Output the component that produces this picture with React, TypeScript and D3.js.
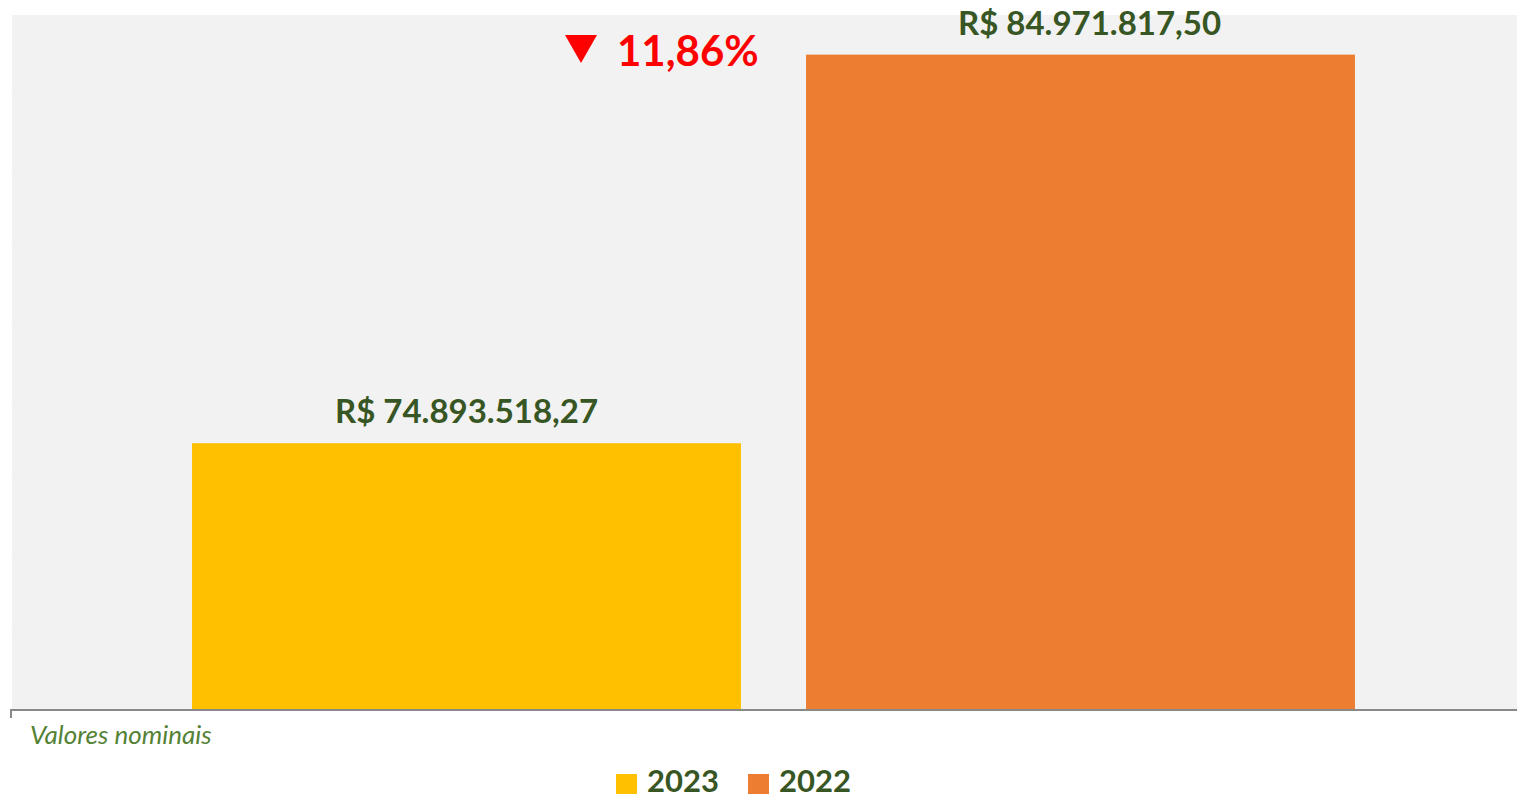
import React from "react";
import * as d3 from "d3";

const categories = ["2023", "2022"];
const values = [74893518.27, 84971817.5];
const valueLabels = ["R$ 74.893.518,27", "R$ 84.971.817,50"];
const colors = ["#FFC000", "#ED7D31"];
const changeLabel = "11,86%";
const yDomain = [68000000, 86000000];
const yTicks = d3.range(68000000, 86000001, 2000000);
const note = "Valores nominais";

const W = 1517;
const H = 799;
const plotLeft = 12;
const plotRight = 1517;
const plotTop = 15;
const plotBottom = 709;

export default function App() {
  const x = d3
    .scaleBand<string>()
    .domain(categories)
    .range([159.5, 1387.5])
    .paddingInner(0.106)
    .paddingOuter(0.053);
  const y = d3.scaleLinear().domain(yDomain).range([plotBottom, plotTop]);
  const font = "Lato, 'Open Sans', sans-serif";

  return (
    <svg
      width={W}
      height={H}
      style={{ position: "absolute", left: 0, top: 0, background: "#fff" }}
      fontFamily={font}
    >
      <rect x={plotLeft} y={plotTop} width={plotRight - plotLeft} height={plotBottom - plotTop} fill="#F2F2F2" />
      {yTicks.map((t) => (
        <line key={t} x1={10} x2={13} y1={y(t)} y2={y(t)} stroke="#FAFAFA" strokeWidth={1} />
      ))}
      {categories.map((c, i) => (
        <g key={c}>
          <rect
            x={x(c)}
            y={y(values[i])}
            width={x.bandwidth()}
            height={plotBottom - y(values[i])}
            fill={colors[i]}
          />
          <text
            x={(x(c) as number) + x.bandwidth() / 2 + (i === 1 ? 9 : 0)}
            y={y(values[i]) - 20}
            textAnchor="middle"
            fontSize={33}
            fontWeight="bold"
            fill="#375623"
          >
            {valueLabels[i]}
          </text>
        </g>
      ))}
      <line x1={10} x2={plotRight} y1={plotBottom + 1} y2={plotBottom + 1} stroke="#898989" strokeWidth={2} />
      <line x1={11} x2={11} y1={plotBottom} y2={plotBottom + 9} stroke="#898989" strokeWidth={2} />
      <path d="M565,35 L597,35 L581,63 Z" fill="#FF0000" />
      <text x={617} y={66} fontSize={42} fontWeight="bold" fill="#FF0000">
        {changeLabel}
      </text>
      <text x={30} y={744} fontSize={26} fontStyle="italic" fill="#548235">
        {note}
      </text>
      {categories.map((c, i) => (
        <g key={"leg" + c} transform={`translate(${616 + i * 132},0)`}>
          <rect x={0} y={774} width={21} height={20} fill={colors[i]} />
          <text x={31} y={792} fontSize={31} fontWeight="bold" fill="#375623">
            {c}
          </text>
        </g>
      ))}
    </svg>
  );
}
